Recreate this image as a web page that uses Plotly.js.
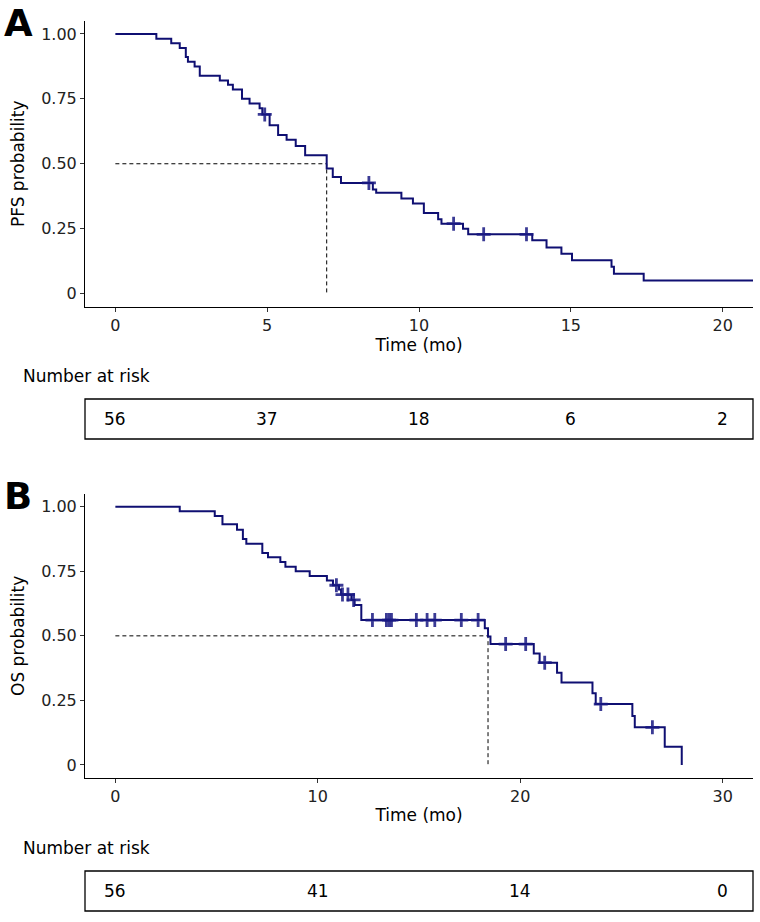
<!DOCTYPE html>
<html>
<head>
<meta charset="utf-8">
<script src="https://cdn.plot.ly/plotly-3.0.1.min.js"></script>
<style>html,body{margin:0;padding:0;background:#fff;}#chart{width:760px;height:922px;}</style>
</head>
<body>
<div id="chart"></div>
<script>
// ---- Panel A: progression-free survival (Kaplan-Meier steps) ----
const pfsTime = [0, 1.35, 1.84, 2.12, 2.32, 2.39, 2.61, 2.78, 3.44, 3.71, 3.87, 4.17, 4.42, 4.75, 4.84, 5.08, 5.36, 5.64, 5.94, 6.25, 6.96, 7.16, 7.43, 8.48, 8.59, 9.42, 9.80, 10.16, 10.63, 10.74, 11.45, 11.62, 13.73, 14.20, 14.69, 15.04, 16.34, 16.42, 17.40, 21.0];
const pfsSurv = [1, 0.982, 0.964, 0.946, 0.911, 0.893, 0.875, 0.839, 0.821, 0.804, 0.786, 0.750, 0.732, 0.714, 0.690, 0.648, 0.611, 0.592, 0.568, 0.533, 0.482, 0.449, 0.426, 0.401, 0.388, 0.366, 0.347, 0.310, 0.286, 0.269, 0.250, 0.228, 0.205, 0.177, 0.153, 0.128, 0.103, 0.076, 0.050, 0.050];
const pfsCensorTime = [4.92, 8.35, 11.14, 12.13, 13.54];
const pfsCensorSurv = [0.690, 0.426, 0.269, 0.228, 0.228];
const pfsMedian = 6.96;
const pfsRiskTimes = [0, 5, 10, 15, 20];
const pfsRisk = [56, 37, 18, 6, 2];
const pfsTicks = [0, 5, 10, 15, 20];

// ---- Panel B: overall survival ----
const osTime = [0, 3.18, 4.91, 5.29, 6.01, 6.30, 6.47, 7.26, 7.54, 8.15, 8.40, 8.91, 9.60, 10.45, 10.75, 11.05, 11.15, 11.66, 11.82, 12.15, 18.25, 18.41, 18.53, 20.67, 20.96, 21.82, 22.04, 23.57, 23.73, 25.54, 25.66, 27.14, 27.98];
const osSurv = [1, 0.982, 0.964, 0.932, 0.911, 0.875, 0.857, 0.821, 0.804, 0.786, 0.768, 0.750, 0.732, 0.714, 0.696, 0.679, 0.660, 0.639, 0.619, 0.561, 0.529, 0.497, 0.468, 0.432, 0.396, 0.357, 0.319, 0.278, 0.236, 0.190, 0.146, 0.071, 0];
const osCensorTime = [10.92, 11.22, 11.49, 11.77, 12.70, 13.39, 13.52, 13.64, 14.87, 15.40, 15.78, 17.09, 17.92, 19.28, 20.27, 21.21, 23.98, 26.53];
const osCensorSurv = [0.696, 0.660, 0.660, 0.639, 0.561, 0.561, 0.561, 0.561, 0.561, 0.561, 0.561, 0.561, 0.561, 0.468, 0.468, 0.396, 0.236, 0.146];
const osMedian = 18.41;
const osRiskTimes = [0, 10, 20, 30];
const osRisk = [56, 41, 14, 0];
const osTicks = [0, 10, 20, 30];

// ---- shared tick labels ----
const probTicks = [0, 0.25, 0.5, 0.75, 1];
const probTickText = ['0', '0.25', '0.50', '0.75', '1.00'];

const FONT = 'DejaVu Sans, Liberation Sans, Arial, sans-serif';
const LINE = '#0f0f72';
const CENS = 'rgba(25,25,130,0.85)';
const W = 760, H = 922, ML = 85, MR = 7;
const py = p => 1 - p / H; // pixel row -> paper y

function km(x, y, xa, ya) {
  return {x: x, y: y, xaxis: xa, yaxis: ya, type: 'scatter', mode: 'lines',
    line: {shape: 'hv', color: LINE, width: 2}, hoverinfo: 'skip', showlegend: false};
}
function cens(x, y, xa, ya) {
  return {x: x, y: y, xaxis: xa, yaxis: ya, type: 'scatter', mode: 'markers',
    marker: {symbol: 'cross-thin', size: 10, line: {color: CENS, width: 2.8}},
    hoverinfo: 'skip', showlegend: false};
}
function med(m, xa, ya) {
  return {x: [0, m, m], y: [0.5, 0.5, 0], xaxis: xa, yaxis: ya, type: 'scatter', mode: 'lines',
    line: {color: '#000', width: 1, dash: '4px,3px'}, hoverinfo: 'skip', showlegend: false};
}

const traces = [
  med(pfsMedian, 'x', 'y'), km(pfsTime, pfsSurv, 'x', 'y'), cens(pfsCensorTime, pfsCensorSurv, 'x', 'y'),
  med(osMedian, 'x2', 'y2'), km(osTime, osSurv, 'x2', 'y2'), cens(osCensorTime, osCensorSurv, 'x2', 'y2')
];

function xax(range, ticks, anchor) {
  return {domain: [0, 1], anchor: anchor, range: range, tickvals: ticks,
    showline: true, linecolor: '#000', linewidth: 1, mirror: false,
    ticks: 'outside', ticklen: 4, tickcolor: '#333', tickwidth: 1,
    tickfont: {family: FONT, size: 16, color: '#222'},
    showgrid: false, zeroline: false, fixedrange: true,
    title: {text: 'Time (mo)', font: {family: FONT, size: 17, color: '#000'}, standoff: 4}};
}
function yax(domain, title, anchor) {
  return {domain: domain, anchor: anchor, range: [-0.05, 1.05], tickvals: probTicks, ticktext: probTickText,
    showline: true, linecolor: '#000', linewidth: 1,
    ticks: 'outside', ticklen: 4, tickcolor: '#333', tickwidth: 1,
    tickfont: {family: FONT, size: 16, color: '#222'},
    showgrid: false, zeroline: false, fixedrange: true,
    title: {text: title, font: {family: FONT, size: 17, color: '#000'}, standoff: 12}};
}

const annotations = [];
const shapes = [];
function riskTable(times, vals, xref, textY, boxTop, boxBot) {
  annotations.push({xref: 'paper', yref: 'paper', x: (21 - ML) / (W - ML - MR), y: py(textY),
    xanchor: 'left', yanchor: 'middle', text: 'Number at risk', showarrow: false,
    font: {family: FONT, size: 17, color: '#000'}});
  shapes.push({type: 'rect', xref: 'paper', yref: 'paper', x0: 0, x1: 1, y0: py(boxBot), y1: py(boxTop),
    line: {color: '#000', width: 1.3}, fillcolor: 'rgba(0,0,0,0)'});
  times.forEach((t, i) => annotations.push({xref: xref, yref: 'paper', x: t, y: py((boxTop + boxBot) / 2),
    xanchor: 'center', yanchor: 'middle', text: String(vals[i]), showarrow: false,
    font: {family: FONT, size: 17, color: '#000'}}));
}
riskTable(pfsRiskTimes, pfsRisk, 'x', 375.5, 399, 439);
riskTable(osRiskTimes, osRisk, 'x2', 848, 871, 911);

[['A', 0], ['B', 472.8]].forEach(([lab, yy]) => annotations.push({xref: 'paper', yref: 'paper',
  x: (2 - ML) / (W - ML - MR), y: py(yy), xanchor: 'left', yanchor: 'top',
  text: '<b>' + lab + '</b>', showarrow: false, font: {family: FONT, size: 37, color: '#000'}}));

const layout = {
  width: W, height: H, margin: {l: ML, r: MR, t: 0, b: 0},
  paper_bgcolor: '#fff', plot_bgcolor: '#fff', showlegend: false,
  xaxis: xax([-1, 21], pfsTicks, 'y'),
  yaxis: yax([py(306.5), py(21)], 'PFS probability', 'x'),
  xaxis2: xax([-1.5, 31.5], osTicks, 'y2'),
  yaxis2: yax([py(777.9), py(493.8)], 'OS probability', 'x2'),
  annotations: annotations, shapes: shapes
};

Plotly.newPlot('chart', traces, layout, {displayModeBar: false, staticPlot: true});
</script>
</body>
</html>
